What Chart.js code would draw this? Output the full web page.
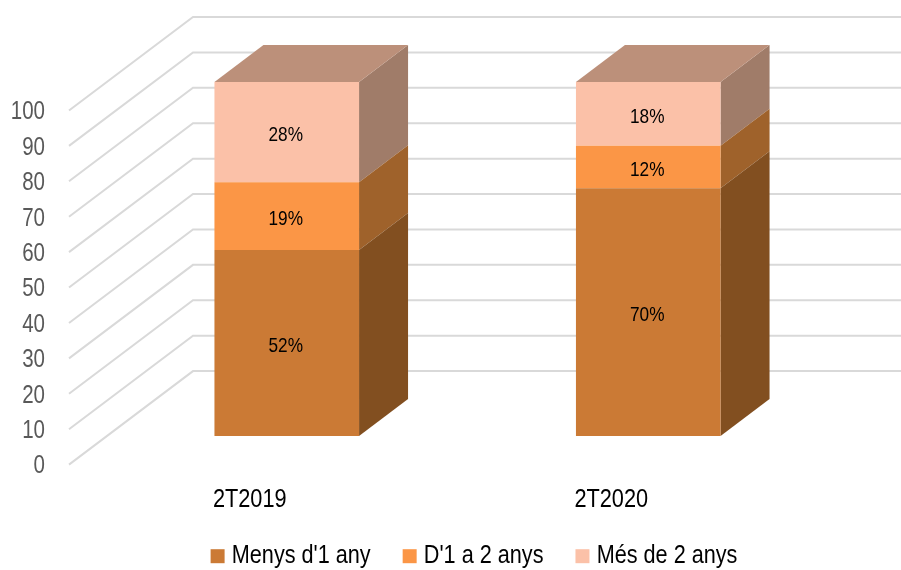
<!DOCTYPE html>
<html>
<head>
<meta charset="utf-8">
<script src="https://cdn.jsdelivr.net/npm/chart.js@4"></script>
<style>
  html, body { margin: 0; padding: 0; background: #fff; }
  canvas { display: block; }
</style>
</head>
<body>
<canvas id="chart" width="901" height="570"></canvas>
<script>
const categories = ['2T2019', '2T2020'];
const menysUnAny = [52, 70];
const unADosAnys = [19, 12];
const mesDeDosAnys = [28, 18];
const yTicks = [0, 10, 20, 30, 40, 50, 60, 70, 80, 90, 100];

// the original is a 100% stacked column, so 2T2019 (sums to 99) still reaches the top
const rawSeries = [menysUnAny, unADosAnys, mesDeDosAnys];
const totals = categories.map((c, i) => rawSeries.reduce((sum, s) => sum + s[i], 0));
const share = (values) => values.map((v, i) => v / totals[i] * 100);

const FONT = '"Liberation Sans", Arial, sans-serif';
const TEXT_SQUEEZE = 0.82;             // text in the original is horizontally condensed
const WALL_DX = 124, WALL_DY = 93.5;   // front plane -> back wall
const BAR_DX = 37, BAR_DY = 28.5;      // front plane -> front of the bars
const DEPTH_DX = 49, DEPTH_DY = 37;    // depth of the bars

const sideColors = ['#824f20', '#9f622b', '#a07c69'];
const topColor = '#bc907a';

const canvas = document.getElementById('chart');
const c2d = canvas.getContext('2d');
const rawFillText = c2d.fillText.bind(c2d);
const rawMeasureText = c2d.measureText.bind(c2d);
c2d.fillText = (text, x, y) => {
  c2d.save();
  c2d.translate(x, y);
  c2d.scale(TEXT_SQUEEZE, 1);
  rawFillText(text, 0, 0);
  c2d.restore();
};
c2d.measureText = (text) => ({ width: rawMeasureText(text).width * TEXT_SQUEEZE });

const fake3d = {
  id: 'fake3d',
  afterLayout(chart) {
    // legend sits off centre in the original
    const legend = chart.legend;
    legend.left += 81;
    legend.right += 81;
    legend.top = 505;
    legend.bottom = 570;
    // axis labels get clipped to the scale box otherwise
    chart.scales.x.bottom = 530;
  },
  beforeDatasetsDraw(chart) {
    const { ctx, scales: { y }, chartArea } = chart;
    ctx.save();
    ctx.strokeStyle = '#d9d9d9';
    ctx.lineWidth = 2;
    yTicks.forEach((t) => {
      const py = y.getPixelForValue(t);
      ctx.beginPath();
      ctx.moveTo(chartArea.left, py);
      ctx.lineTo(chartArea.left + WALL_DX, py - WALL_DY);
      ctx.lineTo(901, py - WALL_DY);
      ctx.stroke();
    });
    ctx.restore();
  },
  beforeDatasetDraw(chart, args) {
    const { ctx } = chart;
    ctx.save();
    ctx.translate(BAR_DX, -BAR_DY);
    chart.getDatasetMeta(args.index).data.forEach((bar) => {
      const p = bar.getProps(['x', 'y', 'base', 'width'], true);
      const right = p.x + p.width / 2;
      const left = p.x - p.width / 2;
      ctx.fillStyle = sideColors[args.index];
      ctx.beginPath();
      ctx.moveTo(right, p.base);
      ctx.lineTo(right + DEPTH_DX, p.base - DEPTH_DY);
      ctx.lineTo(right + DEPTH_DX, p.y - DEPTH_DY);
      ctx.lineTo(right, p.y);
      ctx.closePath();
      ctx.fill();
      if (args.index === rawSeries.length - 1) {
        ctx.fillStyle = topColor;
        ctx.beginPath();
        ctx.moveTo(left, p.y);
        ctx.lineTo(left + DEPTH_DX, p.y - DEPTH_DY);
        ctx.lineTo(right + DEPTH_DX, p.y - DEPTH_DY);
        ctx.lineTo(right, p.y);
        ctx.closePath();
        ctx.fill();
      }
    });
  },
  afterDatasetDraw(chart) {
    chart.ctx.restore();
  },
  afterDatasetsDraw(chart) {
    const { ctx } = chart;
    ctx.save();
    ctx.font = '21px ' + FONT;
    ctx.fillStyle = '#000';
    ctx.textAlign = 'center';
    ctx.textBaseline = 'middle';
    rawSeries.forEach((values, d) => {
      chart.getDatasetMeta(d).data.forEach((bar, i) => {
        const p = bar.getProps(['x', 'y', 'base'], true);
        ctx.fillText(values[i] + '%', p.x + BAR_DX - 1, (p.y + p.base) / 2 - BAR_DY + 3);
      });
    });
    ctx.restore();
  }
};

new Chart(canvas, {
  type: 'bar',
  data: {
    labels: categories,
    datasets: [
      { label: "Menys d'1 any", data: share(menysUnAny), backgroundColor: '#cb7a35' },
      { label: "D'1 a 2 anys", data: share(unADosAnys), backgroundColor: '#fb9646' },
      { label: 'Més de 2 anys', data: share(mesDeDosAnys), backgroundColor: '#fbc1a8' }
    ]
  },
  options: {
    responsive: false,
    animation: false,
    devicePixelRatio: 1,
    layout: { padding: { top: 110.5, right: 109, left: 0, bottom: 0 } },
    datasets: { bar: { categoryPercentage: 1, barPercentage: 0.4, clip: false } },
    plugins: {
      legend: {
        position: 'bottom',
        labels: {
          boxWidth: 2,
          boxHeight: 2,
          padding: 38,
          color: '#000',
          font: { family: FONT, size: 26.4 },
          // thick stroke makes a 14px swatch that sits closer to its text
          generateLabels(chart) {
            return Chart.defaults.plugins.legend.labels.generateLabels(chart)
              .map((item) => ({ ...item, strokeStyle: item.fillStyle, lineWidth: 12 }));
          }
        }
      },
      tooltip: { enabled: false }
    },
    scales: {
      x: {
        stacked: true,
        grid: { display: false },
        border: { display: false },
        ticks: { color: '#000', padding: 11, font: { family: FONT, size: 26.5 } },
        afterFit(scale) { scale.height = 31; }
      },
      y: {
        stacked: true,
        min: 0,
        max: 100,
        grid: { display: false },
        border: { display: false },
        ticks: { stepSize: 10, autoSkip: false, color: '#595959', padding: 16, labelOffset: 2, font: { family: FONT, size: 25, lineHeight: 1 } },
        afterFit(scale) { scale.width = 69; }
      }
    }
  },
  plugins: [fake3d]
});
</script>
</body>
</html>
